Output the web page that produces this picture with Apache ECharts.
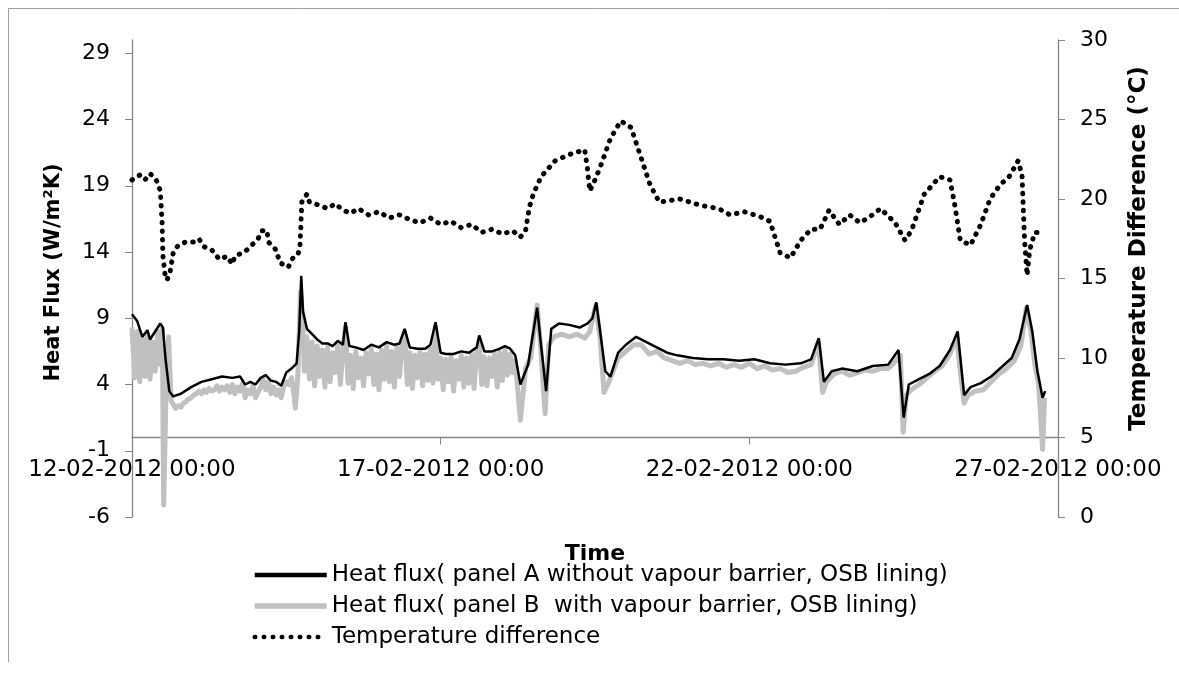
<!DOCTYPE html>
<html>
<head>
<meta charset="utf-8">
<script src="https://cdn.jsdelivr.net/npm/echarts@6/dist/echarts.min.js"></script>
<style>html,body{margin:0;padding:0;background:#fff;}#chart{width:1179px;height:673px;}</style>
</head>
<body>
<div id="chart"></div>
<script>
// Hours since 12-02-2012 00:00
var xTickHours = [0, 120, 240, 360];
var xTickLabels = ['12-02-2012 00:00', '17-02-2012 00:00', '22-02-2012 00:00', '27-02-2012 00:00'];
var leftTicks = [-6, -1, 4, 9, 14, 19, 24, 29];
var rightTicks = [0, 5, 10, 15, 20, 25, 30];

var seriesNames = [
  'Heat flux( panel A without vapour barrier, OSB lining)',
  'Heat flux( panel B  with vapour barrier, OSB lining)',
  'Temperature difference'
];

// Panel A heat flux
var hoursA = [0,2,4,6,7,9,11,12,13,14.5,16,19,23,27,31,35,39,42,44,46,48,50,52,54,56,58,60,62,64,65,65.8,66.5,68,70,72,74,76,78,80,82,83,84.5,87,90,93,96,99,102,104,106,108,111,114,116,118,120,122,125,128,131,134,135,137,140,143,145,147,149,151,154,157.5,159,161,163,166,170,174,177,179,180.5,182,184,186,189,192,196,200,204,208,212,218,224,230,236,242,248,254,260,264,267,269,272,276,282,288,294,298,300,302,306,310,314,318,321,323.5,326,330,334,338,342,345,348,350,352,354,355];
var fluxA = [9.3,8.8,7.6,8.1,7.4,8.0,8.6,8.3,6.0,3.5,3.1,3.3,3.8,4.2,4.4,4.6,4.5,4.6,4.0,4.2,4.0,4.5,4.7,4.3,4.2,3.9,4.9,5.2,5.6,8.0,12.2,9.5,8.2,7.8,7.4,7.1,7.1,6.9,7.3,7.0,8.7,6.9,6.8,6.6,7.0,6.8,7.2,7.0,7.1,8.2,6.8,6.7,6.7,7.0,8.7,6.4,6.3,6.3,6.5,6.4,6.8,7.7,6.5,6.5,6.7,6.9,6.7,6.2,4.0,5.5,9.8,7.0,3.5,8.2,8.6,8.5,8.3,8.6,9.0,10.2,8.0,5.0,4.6,6.4,7.0,7.6,7.2,6.8,6.4,6.2,6.0,5.9,5.9,5.8,5.9,5.6,5.5,5.6,5.9,7.5,4.2,5.0,5.2,5.0,5.4,5.5,6.6,1.5,4.0,4.4,4.8,5.4,6.6,8.0,3.2,3.8,4.1,4.6,5.3,6.0,7.4,10.0,8.0,5.0,3.0,3.5];

// Panel B heat flux
var hoursB = [0,1,2,3,4,5,6,7,8,9,10,11,11.8,12.3,13.2,14.2,15.2,16,17,18,19,20,21,22,23,24,25,26,27,28,29,30,31,32,33,34,35,36,37,38,39,40,41,42,43,44,45,46,47,48,49,50,51,52,53,54,55,56,57,58,59,60,61,62,63,63.5,64.5,65.5,66.5,67,68,69,70,71,72,73,74,75,76,77,78,79,80,81,82,83,84,85,86,87,88,89,90,91,92,93,94,95,96,97,98,99,100,101,102,103,104,105,106,107,108,109,110,111,112,113,114,115,116,117,118,119,120,121,122,123,124,125,126,127,128,129,130,131,132,133,134,135,136,137,138,139,140,141,142,143,144,145,146,147,148,149,150,151,153,155,157.5,159,160.6,162,164,167,170,173,176,178,180.3,182,183.5,185,187,189,192,195,198,201,204,207,210,213,216,219,222,225,228,231,234,237,240,243,246,249,252,255,258,261,264,266.8,268.5,270,273,276,279,282,285,288,291,294,297,298.7,299.8,301,303,306,309,312,315,318,320.6,322,323.5,325,328,331,334,337,340,343,345.5,347.7,349.5,351,352.5,354,354.8];
var fluxB = [8.3,4.5,8.0,4.2,7.5,4.6,7.8,4.4,7.2,5.0,8.0,5.5,8.2,-5.1,3.0,7.6,2.8,2.5,2.2,2.4,2.3,2.6,2.7,2.9,3.0,3.2,3.3,3.5,3.3,3.6,3.4,3.7,3.5,3.6,3.9,3.5,3.8,3.6,3.9,3.4,4.0,3.3,3.8,3.5,4.1,3.0,3.6,3.3,3.9,3.0,3.4,3.8,4.4,3.6,4.2,3.3,3.8,3.2,3.6,3.0,3.9,4.2,4.0,4.5,3.2,2.2,4.8,11.0,8.0,5.0,7.6,4.4,7.2,3.9,6.9,4.6,6.6,3.8,6.8,4.2,6.4,4.9,7.0,4.0,6.6,8.4,4.1,6.2,3.7,6.5,4.5,6.0,3.9,6.4,4.8,6.7,4.0,6.3,3.6,6.6,4.4,6.9,4.2,6.5,3.8,6.8,4.6,7.1,7.9,4.0,6.4,3.7,6.2,4.5,6.5,3.9,6.3,4.3,6.7,4.1,8.4,4.4,6.0,3.6,5.9,4.2,6.1,3.5,5.8,4.4,6.2,3.8,6.0,4.1,6.3,3.7,6.5,7.4,4.0,6.1,3.9,6.0,4.6,6.3,3.8,6.4,4.3,6.6,4.7,6.3,4.9,5.8,3.5,1.3,5.2,6.0,10.0,6.5,1.8,7.0,7.6,7.8,7.6,7.8,7.5,8.0,10.0,7.5,3.4,4.0,5.0,6.0,6.5,7.0,7.0,6.3,6.5,6.0,5.8,5.6,5.8,5.5,5.6,5.4,5.6,5.3,5.5,5.3,5.6,5.2,5.4,5.1,5.2,4.9,5.0,5.3,5.5,7.2,3.4,4.2,4.8,5.0,4.7,4.9,5.1,5.0,5.2,5.2,5.8,6.2,0.4,3.2,3.6,4.0,4.5,5.0,5.4,6.3,7.6,5.0,2.6,3.2,3.5,3.6,4.2,4.8,5.2,5.8,6.9,9.8,8.0,5.5,4.0,-0.9,3.0];

// Temperature difference
var hoursT = [0,3,5,7,9,10,11,11.7,12,12.8,13.6,14.8,16,18,21,24,26,28,31,34,37,39,40,44,46,49,50.5,52.5,53,56,57.5,60.7,62.6,64.5,65.3,65.7,66,68,69,73,76,79,82,85,88,92,96,100,104,108,112,116,120,124,128,132,136,140,144,148,151,153,154.5,156,159,164.5,170,176,177,178,180,182,186,190,194,197.5,201.4,205,213,221,228,232.5,238,244,248,252,256,260,264,267.5,271,275,279,283,287,291,296.7,300.5,303,308,314,318,320,322,326,330,333.6,337.5,341,344.5,346,347,348,349,351,354];
var tempDiff = [21.2,21.5,21.2,21.6,21.3,21.0,20.5,18.5,16.5,15.3,14.9,15.4,16.6,17.1,17.3,17.3,17.5,17.0,16.8,16.2,16.4,15.9,16.4,16.7,17.0,17.5,18.0,18.0,17.3,16.8,16.0,15.7,16.3,16.5,17.0,18.5,19.8,20.3,19.8,19.6,19.4,19.7,19.3,19.1,19.4,19.0,19.2,18.8,19.0,18.7,18.5,18.8,18.4,18.6,18.2,18.4,17.9,18.1,17.8,18.0,17.6,18.0,19.5,20.3,21.4,22.4,22.8,23.1,22.0,20.5,21.2,22.0,23.8,24.9,24.5,22.8,20.9,19.8,20.0,19.6,19.4,19.0,19.2,18.9,18.6,16.6,16.3,17.4,18.1,18.1,19.3,18.4,19.0,18.5,18.9,19.4,18.5,17.4,18.0,20.3,21.4,21.2,19.5,17.4,17.1,18.4,20.0,20.9,21.4,22.4,21.5,17.4,15.2,16.8,17.9,17.9];

function zip(xs, ys) { return xs.map(function (x, i) { return [x, ys[i]]; }); }

var FONT = 'DejaVu Sans';
var AXIS_COLOR = '#868686';
var GRAY = '#c0c0c0';

var chart = echarts.init(document.getElementById('chart'), null, { renderer: 'canvas' });
chart.setOption({
  animation: false,
  backgroundColor: '#ffffff',
  textStyle: { fontFamily: FONT, color: '#000' },
  graphic: [{
    type: 'polyline',
    shape: { points: [[8.5, 662], [8.5, 8.5], [1179, 8.5]] },
    style: { stroke: '#a0a0a0', lineWidth: 1, fill: null },
    silent: true
  }],
  grid: { left: 132, right: 121, top: 40, bottom: 156, containLabel: false },
  legend: {
    orient: 'vertical',
    left: 247,
    top: 558,
    padding: 5,
    itemWidth: 72,
    itemHeight: 14,
    itemGap: 7,
    itemStyle: { opacity: 0, borderWidth: 0 },
    data: [
      { name: seriesNames[0], itemStyle: { opacity: 0 }, lineStyle: { color: '#000', width: 4.5, type: 'solid', opacity: 1 } },
      { name: seriesNames[1], itemStyle: { opacity: 0 }, lineStyle: { color: GRAY, width: 5.5, type: 'solid', opacity: 1 } },
      { name: seriesNames[2], itemStyle: { opacity: 0 }, lineStyle: { color: '#000', width: 4.5, type: [0.5, 8.5], cap: 'round', opacity: 1 } }
    ],
    textStyle: { fontFamily: FONT, fontSize: 23, color: '#000', lineHeight: 24 }
  },
  xAxis: {
    type: 'value',
    min: 0,
    max: 360,
    offset: -79.5,
    name: 'Time',
    nameLocation: 'middle',
    nameGap: 106,
    nameTextStyle: { fontFamily: FONT, fontSize: 22, fontWeight: 'bold', color: '#000' },
    axisLine: { onZero: false, lineStyle: { color: AXIS_COLOR, width: 1.3 } },
    axisTick: { show: true, length: 7, inside: false, customValues: xTickHours, lineStyle: { color: AXIS_COLOR } },
    axisLabel: {
      customValues: xTickHours,
      margin: 21,
      fontFamily: FONT, fontSize: 23, color: '#000',
      showMinLabel: true, showMaxLabel: true, hideOverlap: false,
      formatter: function (v) { var i = xTickHours.indexOf(v); return i >= 0 ? xTickLabels[i] : ''; }
    },
    splitLine: { show: false }
  },
  yAxis: [{
    type: 'value',
    position: 'left',
    min: -6,
    max: 30,
    name: 'Heat Flux (W/m²K)',
    nameLocation: 'middle',
    nameRotate: 90,
    nameGap: 68,
    nameTextStyle: { fontFamily: FONT, fontSize: 21, fontWeight: 'bold', color: '#000', padding: [0, 0, 0, 12] },
    axisLine: { show: true, onZero: false, lineStyle: { color: AXIS_COLOR, width: 1.3 } },
    axisTick: { show: true, length: 7, customValues: leftTicks, lineStyle: { color: AXIS_COLOR } },
    axisLabel: { customValues: leftTicks, margin: 22, fontFamily: FONT, fontSize: 22, color: '#000' },
    splitLine: { show: false }
  }, {
    type: 'value',
    position: 'right',
    min: 0,
    max: 30,
    interval: 5,
    name: 'Temperature Difference (°C)',
    nameLocation: 'middle',
    nameRotate: 90,
    nameGap: 70,
    nameTextStyle: { fontFamily: FONT, fontSize: 23, fontWeight: 'bold', color: '#000', padding: [0, 0, 0, 60] },
    axisLine: { show: true, onZero: false, lineStyle: { color: AXIS_COLOR, width: 1.3 } },
    axisTick: { show: true, length: 7, customValues: rightTicks, lineStyle: { color: AXIS_COLOR } },
    axisLabel: { customValues: rightTicks, margin: 22, fontFamily: FONT, fontSize: 22, color: '#000' },
    splitLine: { show: false }
  }],
  series: [{
    name: seriesNames[0],
    type: 'line',
    yAxisIndex: 0,
    data: zip(hoursA, fluxA),
    showSymbol: false,
    symbol: 'none',
    z: 4,
    lineStyle: { color: '#000000', width: 2.5 },
    itemStyle: { color: '#000000' }
  }, {
    name: seriesNames[1],
    type: 'line',
    yAxisIndex: 0,
    data: zip(hoursB, fluxB),
    showSymbol: false,
    symbol: 'none',
    z: 3,
    lineStyle: { color: GRAY, width: 5, join: 'round' },
    itemStyle: { color: GRAY }
  }, {
    name: seriesNames[2],
    type: 'line',
    yAxisIndex: 1,
    data: zip(hoursT, tempDiff),
    showSymbol: false,
    symbol: 'none',
    z: 5,
    lineStyle: { color: '#000000', width: 5, type: [0.5, 8], cap: 'round' },
    itemStyle: { color: '#000000' }
  }]
});
</script>
</body>
</html>
